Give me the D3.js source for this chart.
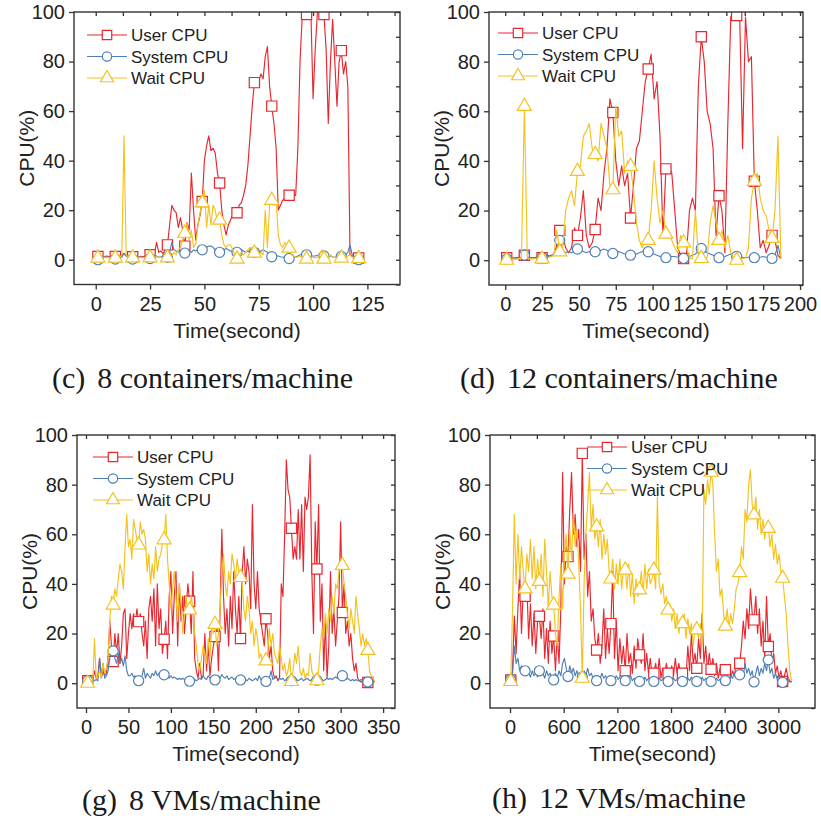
<!DOCTYPE html>
<html>
<head>
<meta charset="utf-8">
<script src="https://cdn.jsdelivr.net/npm/d3@7"></script>
<style>
  body { margin: 0; background: #fff; }
  svg { display: block; }
</style>
</head>
<body>
<svg id="chart" width="821" height="820"></svg>
<script>
// series names and colours
let seriesNames = ['User CPU', 'System CPU', 'Wait CPU']
let seriesColors = ['#e8262e', '#4f80b4', '#f4c21e']

// (c) 8 containers/machine, one sample per second from t = 0
let cUser = [1.5,1.3,1.5,1.4,1.2,1.5,1.3,1.4,1.2,1.3,
  1.5,1.2,1.8,2.5,1.6,1.2,1.4,1.2,1.5,1.3,
  1.2,1.4,1.2,1.5,1.6,2,3,2.5,7,3,
  3.5,2.5,4,6,14,22,20,19,13,17,
  12,5.5,15,12,35,20,8,14,18,23.5,
  40,46,50,44,45,43,35,31,20,14,
  10,14,16,18,21,19,22,23,26,30,
  38,50,62,71.5,72,72,75,73,82,86,
  70,62,55,45,20,22,24,25,26,26,
  26,26,26,45,80,98,99,99,100,100,
  65,85,100,100,99,99,85,55,80,97,
  80,62,80,84.4,75,80,70,2,1.5,1.2,
  1,0.7,1]
let cSystem = [0.5,0,0.5,1,1.2,1,0.8,1,0.5,0.3,
  0.8,1.2,1,2.5,1.5,1,0.8,0.3,0.8,1,
  1.2,1,0.8,1,1,0.5,1,1.2,1.5,1,
  1.2,1.5,1.5,1,3,7,4,3.5,3,3.5,
  3,2.7,3,3.5,3,4,3.5,4,4.5,4,
  4.5,5,5.5,5.5,5,4,4,3,3.5,4,
  4.5,4,3.5,3.5,3,3,3.5,4,3.5,3,
  3.5,3,3.5,3,3.5,3,3.5,4,3.5,3,
  2,1.2,1,1.5,1.5,1.2,1,1,0.8,0.5,
  0.8,1,1.2,1.5,2,2,2.5,2,2,1.5,
  1.5,1.5,1.8,2,1.8,1.5,1.2,1,1.5,1.2,
  1,1.2,1.5,1.3,1.5,2,3,6,2,1,
  0.5,0,0]
let cWait = [0.8,0.7,0.8,1,1,0.8,1,0.8,1,0.7,
  1,1,2,50,2,1,1,0.8,1,0.8,
  1,1,0.8,1,1,0.8,1,1,1.2,1,
  1,0.8,1,0.8,2,1.5,3,2,4,5,
  8,10.7,15,8,12,5,6,14,19,23,
  28,13,22,14,22,20,15,16,10,6,
  5,6,6,4,2,0.3,2,3,2,3,
  4,5,4,2.7,2,2,3,2,20,5,
  22,24,22,24,10,6,5,7,5,4.7,
  2,1.5,1,1,1.5,1,1,0.3,0.5,1,
  1,0.8,1,2,4,0.3,0.5,1,2,1,
  0.8,1,0.8,0.7,1,1,1.5,2,1,0.8,
  0.5,0.5,0.5]

// (d) 12 containers/machine, one sample every 2 s from t = 1
let dUser = [1,1,0.8,1,1.2,1,2,1.5,1,1,
  1.2,1,1,1.5,2,1.5,2.5,6,12,10,
  5,3,5,13,10,17,28,10,5,7,
  12.4,25,20,35,45,65,59.5,40,30,38,
  30,35,17,30,45,48,60,72,77,83,
  65,72,50,10,36.8,38,35,20,5,2,
  0.7,3,20,25,20,70,90,80,60,55,
  45,10,26,20,3,55,98,100,98.6,100,
  45,98,80,82,31.8,20,5,8,3,6,
  10,8,2,0.5]
let dSystem = [0.5,1,1,0.8,1,1.5,2,1.5,1,0.8,
  1,1.2,1,1.2,1.5,2,2.5,4,8,4,
  3,3.5,3,3.5,4.5,4,3.5,3,3.5,3,
  3.4,3.5,4,4.5,4,3.5,2.7,3,3.5,3,
  2.5,2.5,2,2,2.5,3,3.5,4,3.4,3,
  2.5,2,1.5,1.5,1,1.2,1.5,1.5,1.2,1,
  0.7,1,1.5,2,2.5,3.5,4.7,4,3,2.5,
  2,1.5,1,1.2,1.5,2,2.5,2,1.5,1.5,
  1.2,1,1.2,1.5,1,1,1.2,1.5,1.2,1,
  0.7,2,6,1]
let dWait = [0,0.3,0.5,0.3,0.5,1,62,1,0.5,0.5,
  0.8,0.5,0.5,0.8,1,1.5,2,12,3.4,5,
  20,25,28,22,35.8,38,50,52,55,45,
  42.6,40,55,50,45,30,28.4,62,50,52,
  35,40,37.8,28,15,8,5,7,8,20,
  40,25,15,20,10.5,10,8,5,3,10,
  7,5,1,0.5,20,2,0.7,1,1,15,
  22,15,8,12,5,10,3,1,0,0.5,
  0.5,1,5,25,31.8,35,25,20,18,12,
  8.8,20,50,0.5]

// (g) 8 VMs/machine, one sample every 2 s from t = 0
let gUser = [1,1,1,1.5,1,5,2,3,10,2,
  5,3,4,10,25,15,8.7,20,12,20,
  8,15,28,30,10,20,28,22,28,24,
  30,24.8,28,20,15,25,10,30,35,25,
  38,15,40,22,30,12,17.7,25,10,35,
  45,20,35,45,15,40,25,35,20,30,
  40,33,20,45,10,5,2,8,2,3,
  20,5,15,3,10,15,18.8,25,5,30,
  62,35,20,30,15,35,22,45,30,20,
  35,18,45,55,40,50,45,30,72,40,
  30,45,30,25,20,15,26,20,10,15,
  5,2,3,1,2,40,35,60,90,78,
  75,62.4,50,55,50,70,50,72,45,75,
  70,75,92,45,20,65,46,72,25,40,
  5,25,2,15,45,20,30,15,25,35,
  65,28.5,40,20,25,15,20,10,5,8,
  2,1,0.5,0.5,0.5,0.5,0.3,0.5,0.5,0.5,
  0.5]
let gSystem = [1,1,1,1,1.5,1,1.5,1,10,3,
  8,2,3,5,10,13,13,10,8,12,
  8,10,7,11,5,3,3,4,2.5,3,
  2,1,2,3,6,2,4,3,2,4,
  3,5,3,4,3,4,3.4,3,4,2,
  3,2,2.5,2,1.5,2,1.5,2,1.5,1,
  1.5,0.8,1,2,1.5,1,1.5,2,1.5,3,
  2,1.5,3,2,2.5,2,1.3,2,3,2,
  3.5,2.5,2,3,1.5,2,2.5,1.5,2,1.5,
  1.5,1.3,1.5,1,1.5,1,2,1.5,1,1.5,
  2,1,3,1.5,1,1,0.7,1,2,5,
  1.5,2,2.5,1.5,2,1.5,2,1,1.5,2,
  1.5,1,1.5,2,1.5,1,1.5,2,1,1.5,
  2,1.5,1,1.5,2,1.5,1.2,1.5,2,1.5,
  1,1.5,2,1.5,2,1.5,2,2.5,2,2.5,
  3,3,2,1.5,2,1.5,1,1.5,1,1.5,
  1,1,1.5,1,1,0.8,0.5,0.8,1,1,
  1]
let gWait = [0,0,0.5,1,1,18,2,3,5,2,
  8,4,6,10,25,35,31.5,38,35,42,
  48,45,38,55,68,55,58,50,66,62,
  58,55.7,65,60,62,58,45,52,40,48,
  42,55,45,50,52,56,57.8,68,50,40,
  30,38,45,35,25,40,32,20,28,35,
  28,29.5,35,30,20,15,8,5,10,15,
  12,8,18,10,22,20,23.7,15,20,30,
  45,52,40,35,45,40,52,48,42,50,
  45,42.6,40,30,25,35,30,20,25,15,
  22,18,10,12,8,10,9,12,22,15,
  20,12,10,8,15,10,5,8,3,5,
  10,0.7,5,12,8,15,5,3,6,2,
  4,3,12,5,3,2,1,5,15,22,
  18,28,20,30,25,35,28,40,38,45,
  50,47.5,40,35,28,22,30,25,20,35,
  28,22,15,20,15,18,13.2,5,3,2,
  1]

// (h) 12 VMs/machine, one sample every 20 s from t = 8
let hUser = [1.3,5,27,12,30,45,20,38,
  35,40,18,32,15,28,12,25,
  27,18,30,10,22,8,25,12,
  19,5,20,8,30,85,40,55,
  51,70,85,60,68,55,62,45,
  92.6,50,60,35,45,25,30,18,
  13.4,20,8,15,30,10,22,12,
  24,45,10,25,5,18,8,15,
  5,20,8,12,4,15,6,18,
  11.4,8,20,5,12,4,10,3,
  4,8,3,10,2,6,3,8,
  4,2,7,3,10,4,8,3,
  4,6,2,15,5,20,8,12,
  6,18,10,28,8,15,5,12,
  5.6,10,3,8,2,6,3,7,
  5.4,3,6,2,5,3,8,10,
  8,15,25,18,30,22,38,28,
  25.5,35,20,30,15,25,10,35,
  14.8,20,8,12,4,7,2,5,
  0.7,3,6,2,1,0.5]
let hSystem = [1.3,4,15,8,10,5,7,4,
  5,3,4,2.5,5,3,4,2.5,
  5,3,4,2,5,3,4,2,
  1.3,4,2,5,3,8,10,6,
  2.7,7,4,6,3,5,3,4,
  2.5,5,3,6,3,4,2,3,
  1,3,2,4,2,3,1.5,3,
  1,2.5,1.5,3,1.5,2.5,1,2,
  1,2,1.5,3,1,2,1.5,2.5,
  0.7,2,1,2.5,1,2,1.5,2,
  0.7,1.5,1,2,1,1.5,1,2,
  0.7,1.5,1,2,1,1.5,1,2,
  0.7,1.5,1,2,1,2.5,1,2,
  0.7,2,1,2.5,1,2,1,1.5,
  0.7,1.5,1,2,1,1.5,1,2,
  1,2,1.5,3,2,4,2.5,5,
  3.4,6,3,8,4,6,3,5,
  0.5,4,7,3,6,4,8,5,
  9.4,4,6,2,4,1.5,3,1,
  0.3,1,2,1,0.5,0.5]
let hWait = [0.7,30,68,40,60,42,55,45,
  38,52,45,58,42,55,38,50,
  41,52,35,58,45,30,45,35,
  31.5,20,15,35,48,30,52,60,
  44,62,50,68,55,62,48,30,
  2,40,60,72,85,62,72,58,
  63,55,66,50,60,52,58,45,
  42,50,38,48,40,50,38,46,
  45.6,38,48,35,44,32,42,35,
  37.6,45,36,48,38,46,40,42,
  45.6,38,75,40,36,40,32,35,
  29.5,32,25,30,22,28,20,26,
  24,28,18,26,20,24,15,22,
  21.5,18,24,15,78,72,82,76,
  85,80,60,45,50,35,38,28,
  23,30,22,28,24,30,38,40,
  44.6,55,50,70,65,80,86,72,
  67.8,75,62,70,60,66,58,64,
  62.4,55,60,50,56,48,52,45,
  42.3,35,28,15,5,1]

let yTicks = [0, 20, 40, 60, 80, 100]
let cTicks = [0, 25, 50, 75, 100, 125]
let dTicks = [0, 25, 50, 75, 100, 125, 150, 175, 200]
let gTicks = [0, 50, 100, 150, 200, 250, 300, 350]
let hTicks = [0, 600, 1200, 1800, 2400, 3000]

let fontSans = "'Liberation Sans', Arial, sans-serif"
let fontSerif = "'Liberation Serif', 'Times New Roman', serif"

let panels = [
    { series: [cUser, cSystem, cWait], t0: 0, step: 1, every: 8, offset: 1,
      xDomain: [-10, 140], xTicks: cTicks, xMinor: 12.5,
      box: { l: 74, r: 400, t: 12, b: 284.5 },
      legend: { x: 87, y: 35 },
      tag: '(c)', caption: '8 containers/machine', capX: 52, capY: 388 },
    { series: [dUser, dSystem, dWait], t0: 1, step: 2, every: 6, offset: 0,
      xDomain: [-11, 202], xTicks: dTicks, xMinor: 12.5,
      box: { l: 489, r: 803, t: 12, b: 285 },
      legend: { x: 498, y: 33 },
      tag: '(d)', caption: '12 containers/machine', capX: 460, capY: 388 },
    { series: [gUser, gSystem, gWait], t0: 0, step: 2, every: 15, offset: 1,
      xDomain: [-10.6, 364], xTicks: gTicks, xMinor: 25,
      box: { l: 77, r: 395, t: 435, b: 708 },
      legend: { x: 93, y: 457 },
      tag: '(g)', caption: '8 VMs/machine', capX: 82, capY: 810 },
    { series: [hUser, hSystem, hWait], t0: 8, step: 20, every: 8, offset: 0,
      xDomain: [-224, 3410], xTicks: hTicks, xMinor: 300,
      box: { l: 490, r: 815, t: 435, b: 708 },
      legend: { x: 587, y: 447 },
      tag: '(h)', caption: '12 VMs/machine', capX: 492, capY: 808 }
]

let symbols = [d3.symbolSquare, d3.symbolCircle, d3.symbolTriangle]
let symbolSizes = [105, 80, 85]

let svg = d3.select('#chart')

function minorTicks(domain, step) {
    let out = []
    let start = Math.ceil(domain[0] / step) * step
    for (let v = start; v <= domain[1]; v += step) out.push(v)
    return out
}

function drawPanel(p, n) {
    let x = d3.scaleLinear().domain(p.xDomain).range([p.box.l, p.box.r])
    let y = d3.scaleLinear().domain([-10, 100]).range([p.box.b, p.box.t])
    let g = svg.append('g')

    g.append('clipPath').attr('id', 'clip' + n)
        .append('rect')
        .attr('x', p.box.l).attr('y', p.box.t)
        .attr('width', p.box.r - p.box.l).attr('height', p.box.b - p.box.t)

    let plot = g.append('g').attr('clip-path', 'url(#clip' + n + ')')
    let line = d3.line().x(d => x(d[0])).y(d => y(d[1]))

    p.series.forEach((vals, k) => {
        let pts = vals.map((v, i) => [p.t0 + i * p.step, v])
        plot.append('path')
            .datum(pts)
            .attr('d', line)
            .attr('fill', 'none')
            .attr('stroke', seriesColors[k])
            .attr('stroke-width', 1.15)
            .attr('stroke-linejoin', 'round')
        plot.append('g')
            .selectAll('path')
            .data(pts.filter((d, i) => i % p.every === p.offset))
            .join('path')
            .attr('d', d3.symbol(symbols[k], symbolSizes[k]))
            .attr('transform', d => 'translate(' + x(d[0]) + ',' + y(d[1]) + ')')
            .attr('fill', '#fff')
            .attr('stroke', seriesColors[k])
            .attr('stroke-width', 1.2)
    })

    // axes: major and minor ticks outside at bottom/left, inside at top/right
    let xMinorVals = minorTicks(p.xDomain, p.xMinor)
    let yMinorVals = minorTicks([-10, 100], 10)
    let plain = d3.format('d')

    let bottom = g.append('g').attr('transform', 'translate(0,' + p.box.b + ')')
    bottom.call(d3.axisBottom(x).tickValues(xMinorVals).tickSize(3).tickFormat('').tickSizeOuter(0))
    bottom.call(d3.axisBottom(x).tickValues(p.xTicks).tickFormat(plain).tickSize(5).tickPadding(7).tickSizeOuter(0))

    let top = g.append('g').attr('transform', 'translate(0,' + p.box.t + ')')
    top.call(d3.axisTop(x).tickValues(xMinorVals).tickSize(-4).tickFormat('').tickSizeOuter(0))

    let left = g.append('g').attr('transform', 'translate(' + p.box.l + ',0)')
    left.call(d3.axisLeft(y).tickValues(yMinorVals).tickSize(3).tickFormat('').tickSizeOuter(0))
    left.call(d3.axisLeft(y).tickValues(yTicks).tickFormat(plain).tickSize(5).tickPadding(4).tickSizeOuter(0))

    let right = g.append('g').attr('transform', 'translate(' + p.box.r + ',0)')
    right.call(d3.axisRight(y).tickValues(yMinorVals).tickSize(-4).tickFormat('').tickSizeOuter(0))

    g.selectAll('.domain').remove()
    g.selectAll('.tick line').attr('stroke', '#333').attr('stroke-width', 1.3)
    g.selectAll('.tick text')
        .attr('fill', '#222')
        .style('font-family', fontSans)
        .style('font-size', '20px')

    g.append('rect')
        .attr('x', p.box.l).attr('y', p.box.t)
        .attr('width', p.box.r - p.box.l).attr('height', p.box.b - p.box.t)
        .attr('fill', 'none')
        .attr('stroke', '#333')
        .attr('stroke-width', 1.4)

    // axis titles
    g.append('text')
        .attr('x', (p.box.l + p.box.r) / 2)
        .attr('y', p.box.b + 53)
        .attr('text-anchor', 'middle')
        .attr('fill', '#222')
        .style('font-family', fontSans)
        .style('font-size', '21px')
        .text('Time(second)')
    g.append('text')
        .attr('transform', 'translate(' + (p.box.l - 48) + ',' + ((p.box.t + p.box.b) / 2) + ') rotate(-90)')
        .attr('text-anchor', 'middle')
        .attr('dy', '0.36em')
        .attr('fill', '#222')
        .style('font-family', fontSans)
        .style('font-size', '21px')
        .text('CPU(%)')

    // legend
    let leg = g.append('g')
    seriesNames.forEach((name, k) => {
        let ly = p.legend.y + k * 21.5
        leg.append('line')
            .attr('x1', p.legend.x).attr('x2', p.legend.x + 40)
            .attr('y1', ly).attr('y2', ly)
            .attr('stroke', seriesColors[k]).attr('stroke-width', 1.2)
        leg.append('path')
            .attr('d', d3.symbol(symbols[k], symbolSizes[k] * 0.85))
            .attr('transform', 'translate(' + (p.legend.x + 20) + ',' + ly + ')')
            .attr('fill', '#fff')
            .attr('stroke', seriesColors[k])
            .attr('stroke-width', 1.2)
        leg.append('text')
            .attr('x', p.legend.x + 44)
            .attr('y', ly)
            .attr('dy', '0.36em')
            .attr('fill', '#222')
            .style('font-family', fontSans)
            .style('font-size', '17px')
            .text(name)
    })

    // caption
    let cap = g.append('text')
        .attr('x', p.capX)
        .attr('y', p.capY)
        .attr('fill', '#1a1a1a')
        .style('font-family', fontSerif)
        .style('font-size', '30px')
    cap.append('tspan').text(p.tag)
    cap.append('tspan').attr('dx', 12).text(p.caption)
}

panels.forEach((p, n) => drawPanel(p, n))
</script>
</body>
</html>
